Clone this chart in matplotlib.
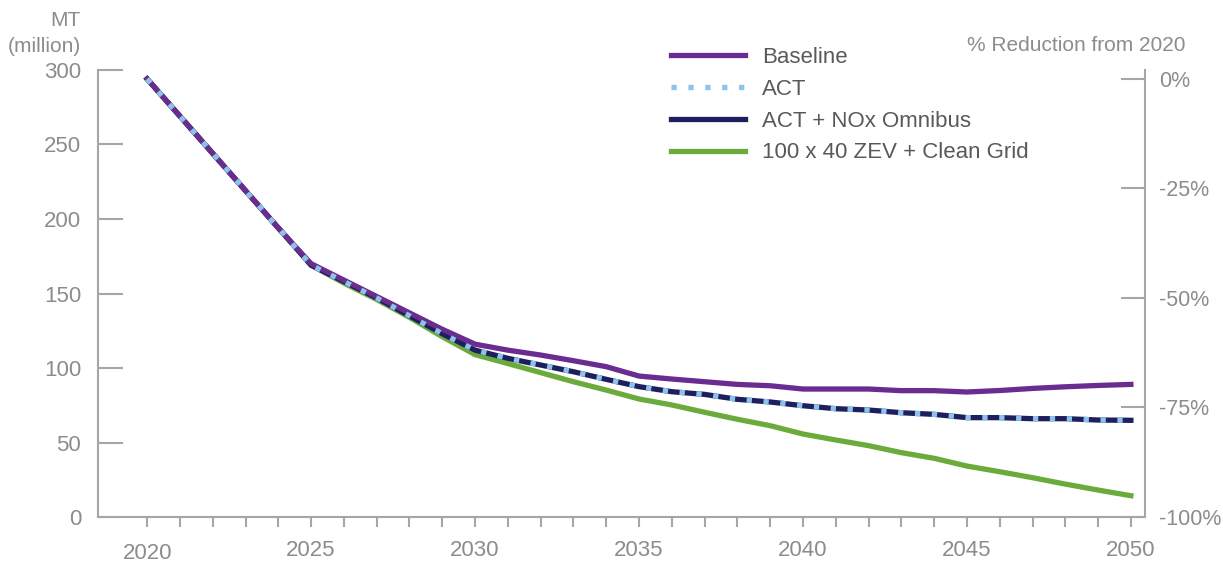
import numpy as np
import matplotlib
matplotlib.use("Agg")
import matplotlib.pyplot as plt
import matplotlib.transforms as mtransforms

# Chart data (MT, million).
years    = list(range(2020, 2051))
baseline = [294, 269, 244, 219, 194, 170, 159, 148, 137, 126, 116, 112, 108.7, 104.9, 100.9, 94.6,
            92.6, 90.8, 89.0, 88.1, 85.9, 85.9, 85.9, 84.8, 84.8, 83.9, 84.9, 86.3, 87.4, 88.3, 89.0]
act      = [294, 269, 244, 219, 194, 169, 158, 147, 135, 123, 112, 106.5, 102, 97.5, 92.4, 87.5,
            84.1, 82.3, 79.0, 77.2, 74.7, 72.7, 71.8, 70.0, 68.9, 66.7, 66.7, 66.0, 66.0, 65.1, 64.9]
act_nox  = list(act)
zev      = [294, 269, 244, 219, 194, 169, 157, 146, 134, 121, 109, 103, 96.9, 90.8, 85.2, 79.2,
            75.2, 70.3, 65.6, 61.3, 55.7, 51.7, 47.9, 43.2, 39.4, 34.2, 30.4, 26.4, 22.1, 18.1, 14.3]

series_labels = ["Baseline", "ACT", "ACT + NOx Omnibus", "100 x 40 ZEV + Clean Grid"]
left_ticks    = [0, 50, 100, 150, 200, 250, 300]
right_pcts    = [0, -25, -50, -75, -100]
x_major       = [2020, 2025, 2030, 2035, 2040, 2045, 2050]

# Colours.
purple     = "#6a2c91"
light_blue = "#8dc3ea"
navy       = "#1e1f5e"
green      = "#6aab3b"
axis_grey  = "#a6a6a6"
tick_grey  = "#8c8c8c"
text_grey  = "#595959"

plt.rcParams['font.family'] = ['Liberation Sans', 'DejaVu Sans']

fig = plt.figure(figsize=(12.23, 5.64), dpi=100)
ax  = fig.add_axes([0.0801, 0.0833, 0.9362 - 0.0801, 0.8759 - 0.0833])

# Plot the data.
lw = 3.8
l_zev,  = ax.plot(years, zev,      color=green,  lw=lw, solid_joinstyle='miter', zorder=2)
l_nox,  = ax.plot(years, act_nox,  color=navy,   lw=lw, solid_joinstyle='miter', zorder=3)
l_base, = ax.plot(years, baseline, color=purple, lw=lw, solid_joinstyle='miter', zorder=4)
l_act,  = ax.plot(years, act,      color=light_blue, lw=lw, dashes=(1.0, 2.2),
                  dash_capstyle='butt', zorder=5)

# Style the axes.
ax.set_xlim(2018.5, 2050.43)
ax.set_ylim(0, 300)
for side in ["top", "right"]:
  ax.spines[side].set_visible(False)
for side in ["left", "bottom"]:
  ax.spines[side].set_color(axis_grey)
  ax.spines[side].set_linewidth(1.5)

ax.set_yticks(left_ticks)
ax.tick_params(axis='y', direction='in', length=18, width=1.5, color=axis_grey,
               labelcolor=tick_grey, labelsize=16, pad=12)
ax.set_xticks(x_major)
ax.set_xticks(years, minor=True)
ax.tick_params(axis='x', which='both', direction='out', length=7.5, width=1.5, color=axis_grey,
               labelcolor=tick_grey, labelsize=16, pad=9)

# The 2020 label sits a little lower in the reference.
offset = mtransforms.ScaledTranslation(0, -2.5/72, fig.dpi_scale_trans)
lab0 = ax.get_xticklabels()[0]
lab0.set_transform(lab0.get_transform() + offset)

# Right axis: % reduction from 2020.
ax2 = ax.twinx()
ax2.set_ylim(0, 300)
for side in ["top", "left", "bottom"]:
  ax2.spines[side].set_visible(False)
ax2.spines["right"].set_color(axis_grey)
ax2.spines["right"].set_linewidth(1.5)
base0 = baseline[0]
ax2.set_yticks([base0*(1 + p/100.0) for p in right_pcts])
ax2.set_yticklabels([f"{p}%" for p in right_pcts])
ax2.tick_params(axis='y', direction='in', length=17, width=1.5, color=axis_grey,
                labelcolor=tick_grey, labelsize=15.5, pad=10)

# Axis titles.
fig.text(0.066, 0.941, "MT\n(million)", ha='right', va='center', multialignment='right',
         fontsize=15, color=tick_grey, linespacing=1.45)
fig.text(0.969, 0.920, "% Reduction from 2020", ha='right', va='center',
         fontsize=15, color=tick_grey)

# Legend.
leg = ax.legend([l_base, l_act, l_nox, l_zev], series_labels,
                loc='upper left', bbox_to_anchor=(0.549, 0.917), bbox_transform=fig.transFigure,
                frameon=False, fontsize=16, handlelength=3.3, handletextpad=0.77,
                labelspacing=0.49, borderpad=0, borderaxespad=0)
for text in leg.get_texts():
  text.set_color(text_grey)

fig.savefig("out.png", dpi=100)
